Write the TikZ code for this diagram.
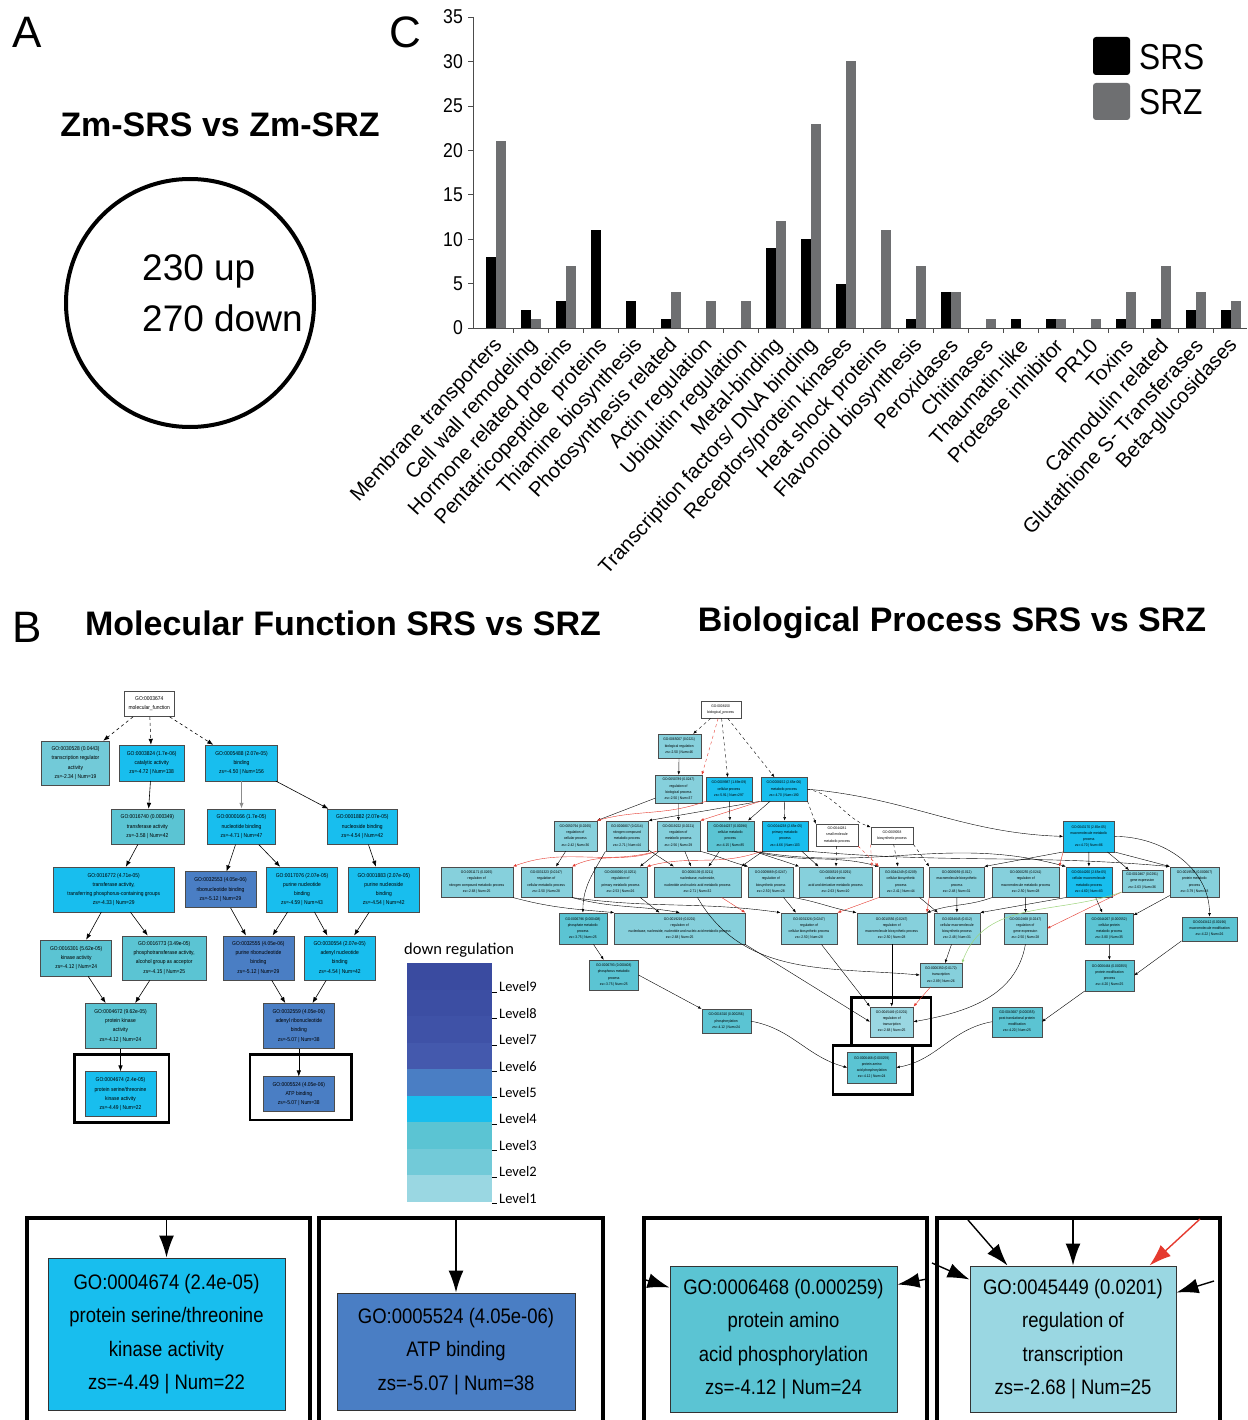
\documentclass[tikz,border=0pt]{standalone}
\usepackage{fontspec}
\setmainfont{Liberation Sans}
\newfontfamily\narrowfont[FakeStretch=0.88]{Liberation Sans}
\newfontfamily\carlfont{Carlito}
\usetikzlibrary{arrows.meta,calc}
\definecolor{lvnine}{HTML}{3A4BA0}
\definecolor{lveight}{HTML}{3C4EA3}
\definecolor{lvseven}{HTML}{3F52A7}
\definecolor{lvsix}{HTML}{4459AD}
\definecolor{lvfive}{HTML}{4A7EC4}
\definecolor{lvfour}{HTML}{18BEEE}
\definecolor{lvthree}{HTML}{5BC4D3}
\definecolor{lvtwo}{HTML}{72CAD8}
\definecolor{lvone}{HTML}{9AD7E2}
\definecolor{bptwo}{HTML}{86D0DC}
\definecolor{srzgray}{HTML}{6E6F71}
\definecolor{edred}{HTML}{E53A2F}
\definecolor{edgreen}{HTML}{9CD47A}
\tikzset{
 mfn/.style={draw=black!70, line width=0.5pt, align=center, inner sep=0pt, font=\narrowfont\fontsize{5.6}{9.2}\selectfont},
 bpn/.style={draw=black!70, line width=0.4pt, align=center, inner sep=0pt, font=\narrowfont\fontsize{3.7}{6.2}\selectfont},
 mfa/.style={-{Latex[length=6pt,width=4.5pt]}, line width=0.6pt},
 bpa/.style={-{Latex[length=3.5pt,width=2.8pt]}, line width=0.4pt},
 hl/.style={draw, line width=2.6pt},
 bigbox/.style={draw=black!80, line width=1pt, align=center, inner sep=0pt, font=\narrowfont\fontsize{21}{33.5}\selectfont},
 bigarr/.style={-{Latex[length=22pt,width=15pt]}, line width=1.4pt},
 framebox/.style={line width=4.5pt},
 catl/.style={rotate=47.5, anchor=east, font=\fontsize{20.5}{20.5}\selectfont, inner sep=0pt},
 ylab/.style={anchor=east, font=\narrowfont\fontsize{20}{20}\selectfont, inner sep=0pt},
 lvlab/.style={anchor=west, font=\carlfont\fontsize{14.5}{14.5}\selectfont, inner sep=0pt},
 paneltitle/.style={font=\bfseries\fontsize{34}{34}\selectfont},
 panellab/.style={font=\fontsize{44}{44}\selectfont, inner sep=0pt}
}
\newcommand\catlab[2]{\node[catl] (cat#1) at ({496+35*#1+3},342) {#2};}
\begin{document}
\begin{tikzpicture}[x=1pt,y=-1pt]
\useasboundingbox (0,0) rectangle (1247,1420);
\fill[white] (0,0) rectangle (1247,1420);

% ---------- Panel A ----------
\node[panellab] (lblA) at (27,32) {A};
\node[paneltitle] (titA) at (220,125) {Zm-SRS vs Zm-SRZ};
\node[draw, circle, line width=4pt, minimum size=248pt, inner sep=0pt] (circ) at (190,303) {};
\node[anchor=west, font=\fontsize{37}{37}\selectfont, inner sep=0pt] (upn) at (142,271) {230 up};
\node[anchor=west, font=\fontsize{37}{37}\selectfont, inner sep=0pt] (downn) at (142,318) {270 down};

% ---------- Panel C ----------
\node[panellab] (lblC) at (405,32) {C};
\draw[line width=0.6pt, black!70] (473,17) -- (473,328) -- (1247,328);
\foreach \v in {0,5,...,35} {
  \draw[line width=0.6pt, black!70] (468,{328-\v*8.886}) -- (473,{328-\v*8.886});
  \node[ylab] (yl\v) at (463,{328-\v*8.886}) {\v};
}
\foreach \k in {1,...,21} {\draw[line width=0.6pt, black!70] ({478.5+35*\k},328) -- ({478.5+35*\k},333);}
\foreach \i/\a/\b in {0/8/21,1/2/1,2/3/7,3/11/0,4/3/0,5/1/4,6/0/3,7/0/3,8/9/12,9/10/23,10/5/30,11/0/11,12/1/7,13/4/4,14/0/1,15/1/0,16/1/1,17/0/1,18/1/4,19/1/7,20/2/4,21/2/3} {
  \ifnum\a>0 \fill[black] ({496+35*\i-10},328) rectangle ({496+35*\i},{328-\a*8.886}); \fi
  \ifnum\b>0 \fill[srzgray] ({496+35*\i},328) rectangle ({496+35*\i+10},{328-\b*8.886}); \fi
}
\catlab{0}{Membrane transporters}
\catlab{1}{Cell wall remodeling}
\catlab{2}{Hormone related proteins}
\catlab{3}{Pentatricopeptide\ \ proteins}
\catlab{4}{Thiamine biosynthesis}
\catlab{5}{Photosynthesis related}
\catlab{6}{Actin regulation}
\catlab{7}{Ubiquitin regulation}
\catlab{8}{Metal-binding}
\catlab{9}{Transcription factors/ DNA binding}
\catlab{10}{Receptors/protein kinases}
\catlab{11}{Heat shock proteins}
\catlab{12}{Flavonoid biosynthesis}
\catlab{13}{Peroxidases}
\catlab{14}{Chitinases}
\catlab{15}{Thaumatin-like}
\catlab{16}{Protease inhibitor}
\catlab{17}{PR10}
\catlab{18}{Toxins}
\catlab{19}{Calmodulin related}
\catlab{20}{Glutathione S- Transferases}
\catlab{21}{Beta-glucosidases}
\fill[black, rounded corners=3pt] (1093,37) rectangle (1130,75);
\fill[srzgray, rounded corners=3pt] (1093,83) rectangle (1130,120);
\node[anchor=west, font=\narrowfont\fontsize{36}{36}\selectfont, inner sep=0pt] (legS) at (1139,57) {SRS};
\node[anchor=west, font=\narrowfont\fontsize{36}{36}\selectfont, inner sep=0pt] (legZ) at (1139,102) {SRZ};

% ---------- Panel B titles ----------
\node[panellab] (lblB) at (27,627) {B};
\node[paneltitle] (titMF) at (343,623) {Molecular Function SRS vs SRZ};
\node[paneltitle] (titBP) at (952,623) {Biological Process SRS vs SRZ};

% ---------- Molecular function graph ----------
\node[mfn, fill=white, minimum width=50, minimum height=25.7] (mroot) at (149.3,703.8) {GO:0003674\\molecular\_function};
\node[mfn, fill=lvtwo, minimum width=67.6, minimum height=44] (m1) at (75.5,763) {GO:0030528 (0.0443)\\transcription regulator\\activity\\zs=-2.34 | Num=19};
\node[mfn, fill=lvfour, minimum width=64.7, minimum height=35.7] (m2) at (151.7,762.9) {GO:0003824 (1.7e-06)\\catalytic activity\\zs=-4.72 | Num=138};
\node[mfn, fill=lvfour, minimum width=71.6, minimum height=35.7] (m3) at (241.5,762.9) {GO:0005488 (2.07e-05)\\binding\\zs=-4.50 | Num=156};
\node[mfn, fill=lvthree, minimum width=73.3, minimum height=35.3] (m4) at (147.4,826.7) {GO:0016740 (0.000349)\\transferase activity\\zs=-3.58 | Num=42};
\node[mfn, fill=lvfour, minimum width=68.4, minimum height=35.3] (m5) at (241.5,826.7) {GO:0000166 (1.7e-05)\\nucleotide binding\\zs=-4.71 | Num=47};
\node[mfn, fill=lvfour, minimum width=70, minimum height=35.3] (m6) at (362.3,826.7) {GO:0001882 (2.07e-05)\\nucleoside binding\\zs=-4.54 | Num=42};
\node[mfn, fill=lvfour, minimum width=120.7, minimum height=44.7] (m7) at (113.7,889.4) {GO:0016772 (4.71e-05)\\transferase activity,\\transferring phosphorus-containing groups\\zs=-4.33 | Num=29};
\node[mfn, fill=lvfive, minimum width=71, minimum height=36] (m8) at (220.5,889.7) {GO:0032553 (4.05e-06)\\ribonucleotide binding\\zs=-5.12 | Num=29};
\node[mfn, fill=lvfour, minimum width=70.6, minimum height=44.7] (m9) at (302,889.4) {GO:0017076 (2.07e-05)\\purine nucleotide\\binding\\zs=-4.59 | Num=43};
\node[mfn, fill=lvfour, minimum width=71, minimum height=44.7] (m10) at (383.8,889.4) {GO:0001883 (2.07e-05)\\purine nucleoside\\binding\\zs=-4.54 | Num=42};
\node[mfn, fill=lvthree, minimum width=71, minimum height=36] (m11) at (76.2,958) {GO:0016301 (5.62e-05)\\kinase activity\\zs=-4.12 | Num=24};
\node[mfn, fill=lvthree, minimum width=83.7, minimum height=44.3] (m12) at (164.2,957.9) {GO:0016773 (3.49e-05)\\phosphotransferase activity,\\alcohol group as acceptor\\zs=-4.15 | Num=25};
\node[mfn, fill=lvfive, minimum width=71.3, minimum height=44.3] (m13) at (258.4,957.9) {GO:0032555 (4.05e-06)\\purine ribonucleotide\\binding\\zs=-5.12 | Num=29};
\node[mfn, fill=lvfour, minimum width=70.7, minimum height=44.3] (m14) at (339.7,957.9) {GO:0030554 (2.07e-05)\\adenyl nucleotide\\binding\\zs=-4.54 | Num=42};
\node[mfn, fill=lvthree, minimum width=71, minimum height=45] (m15) at (120.5,1025.8) {GO:0004672 (9.62e-05)\\protein kinase\\activity\\zs=-4.12 | Num=24};
\node[mfn, fill=lvfive, minimum width=71, minimum height=45] (m16) at (298.8,1025.8) {GO:0032559 (4.05e-06)\\adenyl ribonucleotide\\binding\\zs=-5.07 | Num=38};
\node[mfn, fill=lvfour, minimum width=71, minimum height=45] (m17) at (120.5,1094.2) {GO:0004674 (2.4e-05)\\protein serine/threonine\\kinase activity\\zs=-4.49 | Num=22};
\node[mfn, fill=lvfive, minimum width=71, minimum height=35] (m18) at (298.8,1094.2) {GO:0005524 (4.05e-06)\\ATP binding\\zs=-5.07 | Num=38};
\draw[hl] (74.3,1054.3) rectangle (169,1122.7);
\draw[hl] (250,1054.3) rectangle (351.7,1120);
\draw[mfa, dashed] (mroot) -- (m1);
\draw[mfa, dashed] (mroot) -- (m2);
\draw[mfa, dashed] (mroot) -- (m3);
\draw[mfa] (m2) -- (m4);
\draw[mfa] (m4) -- (m7);
\draw[mfa, black!45, line width=1.3pt] (m3) -- (m5);
\draw[mfa] (m3) -- (m6);
\draw[mfa] (m5) -- (m8);
\draw[mfa] (m5) -- (m9);
\draw[mfa] (m6) -- (m10);
\draw[mfa] (m7) -- (m11);
\draw[mfa] (m7) -- (m12);
\draw[mfa] (m8) -- (m13);
\draw[mfa] (m9) -- (m13);
\draw[mfa] (m9) -- (m14);
\draw[mfa] (m10) -- (m14);
\draw[mfa] (m11) -- (m15);
\draw[mfa] (m12) -- (m15);
\draw[mfa] (m13) -- (m16);
\draw[mfa] (m14) -- (m16);
\draw[mfa] (m15) -- (m17);
\draw[mfa] (m16) -- (m18);

% ---------- Legend ----------
\node[anchor=west, font=\carlfont\fontsize{16.5}{16.5}\selectfont, inner sep=0pt] (downreg) at (404,950) {down regulation};
\foreach \c [count=\k from 0] in {lvnine,lveight,lvseven,lvsix,lvfive,lvfour,lvthree,lvtwo,lvone} {
  \fill[\c] (406.5,{963+26.5*\k}) rectangle (491.5,{963+26.5*(\k+1)});
}
\foreach \n [count=\k from 0] in {9,8,7,6,5,4,3,2,1} {
  \draw[line width=0.6pt] (492,{992+26.4*\k}) -- (497,{992+26.4*\k});
  \node[lvlab] (lv\n) at (499,{987+26.4*\k}) {Level\n};
}

% ---------- Biological process graph ----------
\node[bpn, fill=white, minimum width=40, minimum height=17.6] (broot) at (720.7,709.5) {GO:0008150\\biological\_process};
\node[bpn, fill=bptwo, minimum width=43, minimum height=24.3] (b1) at (679.2,746.2) {GO:0065007 (0.0221)\\biological regulation\\zs=-2.50 | Num=46};
\node[bpn, fill=bptwo, minimum width=46.4, minimum height=28.3] (b2) at (678.5,789.2) {GO:0050789 (0.0247)\\regulation of\\biological process\\zs=-2.50 | Num=37};
\node[bpn, fill=lvfour, minimum width=45.7, minimum height=23.7] (b3) at (728.9,789.2) {GO:0009987 (1.89e-09)\\cellular process\\zs=-5.91 | Num=297};
\node[bpn, fill=lvfour, minimum width=46.6, minimum height=23.7] (b4) at (784,789.2) {GO:0008152 (2.65e-06)\\metabolic process\\zs=-4.70 | Num=190};
\node[bpn, fill=bptwo, minimum width=42.7, minimum height=30.3] (b5) at (575.4,835.9) {GO:0050794 (0.0265)\\regulation of\\cellular process\\zs=-2.42 | Num=36};
\node[bpn, fill=bptwo, minimum width=42.6, minimum height=30.3] (b6) at (627,835.9) {GO:0006807 (0.0214)\\nitrogen compound\\metabolic process\\zs=-2.71 | Num=44};
\node[bpn, fill=bptwo, minimum width=43.3, minimum height=30.3] (b7) at (678.4,835.9) {GO:0019222 (0.0221)\\regulation of\\metabolic process\\zs=-2.56 | Num=29};
\node[bpn, fill=lvthree, minimum width=47.3, minimum height=30.3] (b8) at (730.4,835.9) {GO:0044237 (0.00296)\\cellular metabolic\\process\\zs=-4.15 | Num=85};
\node[bpn, fill=lvfour, minimum width=46.6, minimum height=30.3] (b9) at (785,835.9) {GO:0044238 (2.65e-05)\\primary metabolic\\process\\zs=-4.66 | Num=103};
\node[bpn, fill=white, minimum width=42, minimum height=22] (bsm) at (837,835) {GO:0044281\\small molecule\\metabolic process};
\node[bpn, fill=white, minimum width=42.6, minimum height=17] (bbio) at (892,835.8) {GO:0009058\\biosynthetic process};
\node[bpn, fill=lvfour, minimum width=51, minimum height=30.7] (bmac) at (1088.8,836.4) {GO:0043170 (2.65e-05)\\macromolecule metabolic\\process\\zs=-4.70 | Num=86};
\node[bpn, fill=bptwo, minimum width=72, minimum height=30.6] (c1) at (476.7,882) {GO:0051171 (0.0265)\\regulation of\\nitrogen compound metabolic process\\zs=-2.68 | Num=25};
\node[bpn, fill=bptwo, minimum width=51, minimum height=30.6] (c2) at (546.2,882) {GO:0031323 (0.0247)\\regulation of\\cellular metabolic process\\zs=-2.50 | Num=28};
\node[bpn, fill=bptwo, minimum width=52.4, minimum height=30.6] (c3) at (620.5,882) {GO:0080090 (0.0251)\\regulation of\\primary metabolic process\\zs=-2.53 | Num=26};
\node[bpn, fill=bptwo, minimum width=87, minimum height=30.6] (c4) at (697.5,882) {GO:0006139 (0.0211)\\nucleobase, nucleoside,\\nucleotide and nucleic acid metabolic process\\zs=-2.71 | Num=32};
\node[bpn, fill=bptwo, minimum width=45, minimum height=30.6] (c5) at (770.8,882) {GO:0009889 (0.0247)\\regulation of\\biosynthetic process\\zs=-2.50 | Num=28};
\node[bpn, fill=bptwo, minimum width=72.4, minimum height=30.6] (c6) at (835.5,882) {GO:0006519 (0.0291)\\cellular amino\\acid and derivative metabolic process\\zs=-2.63 | Num=10};
\node[bpn, fill=bptwo, minimum width=43.7, minimum height=30.6] (c7) at (900.9,882) {GO:0044249 (0.0209)\\cellular biosynthetic\\process\\zs=-2.41 | Num=44};
\node[bpn, fill=bptwo, minimum width=54.7, minimum height=30.6] (c8) at (956.7,882) {GO:0009059 (0.012)\\macromolecule biosynthetic\\process\\zs=-2.48 | Num=31};
\node[bpn, fill=bptwo, minimum width=66.7, minimum height=30.6] (c9) at (1025.7,882) {GO:0060255 (0.0241)\\regulation of\\macromolecule metabolic process\\zs=-2.50 | Num=28};
\node[bpn, fill=lvfour, minimum width=45.7, minimum height=30.6] (c10) at (1088.9,882) {GO:0044260 (2.65e-05)\\cellular macromolecule\\metabolic process\\zs=-4.60 | Num=83};
\node[bpn, fill=bptwo, minimum width=41, minimum height=21.7] (c11) at (1142.2,881) {GO:0010467 (0.0291)\\gene expression\\zs=-2.63 | Num=36};
\node[bpn, fill=bptwo, minimum width=49, minimum height=30.6] (c12) at (1194.5,882) {GO:0019538 (0.000667)\\protein metabolic\\process\\zs=-3.79 | Num=38};
\node[bpn, fill=lvthree, minimum width=47.7, minimum height=31.4] (df) at (582.9,928.5) {GO:0006796 (0.000408)\\phosphate metabolic\\process\\zs=-3.75 | Num=25};
\node[bpn, fill=bptwo, minimum width=130.7, minimum height=31.4] (dg) at (679.7,928.5) {GO:0019219 (0.0201)\\regulation of\\nucleobase, nucleoside, nucleotide and nucleic acid metabolic process\\zs=-2.68 | Num=25};
\node[bpn, fill=bptwo, minimum width=56.6, minimum height=31.4] (dh) at (809,928.5) {GO:0031326 (0.0247)\\regulation of\\cellular biosynthetic process\\zs=-2.50 | Num=28};
\node[bpn, fill=bptwo, minimum width=70, minimum height=31.4] (da) at (891.7,928.5) {GO:0010556 (0.0247)\\regulation of\\macromolecule biosynthetic process\\zs=-2.50 | Num=28};
\node[bpn, fill=bptwo, minimum width=46, minimum height=31.4] (db) at (957,928.5) {GO:0034645 (0.012)\\cellular macromolecule\\biosynthetic process\\zs=-2.48 | Num=31};
\node[bpn, fill=bptwo, minimum width=42.7, minimum height=31.4] (dc) at (1025.4,928.5) {GO:0010468 (0.0247)\\regulation of\\gene expression\\zs=-2.50 | Num=28};
\node[bpn, fill=lvthree, minimum width=48.3, minimum height=31.4] (dd) at (1109.2,928.5) {GO:0044267 (0.000552)\\cellular protein\\metabolic process\\zs=-3.80 | Num=35};
\node[bpn, fill=lvthree, minimum width=55.6, minimum height=24] (de) at (1209.5,928.7) {GO:0043412 (0.00196)\\macromolecule modification\\zs=-4.22 | Num=26};
\node[bpn, fill=lvthree, minimum width=49, minimum height=30] (ea) at (613.8,975) {GO:0006793 (0.000408)\\phosphorus metabolic\\process\\zs=-3.75 | Num=25};
\node[bpn, fill=bptwo, minimum width=41.7, minimum height=23.4] (fa) at (940.9,975) {GO:0006350 (0.0172)\\transcription\\zs=-2.89 | Num=26};
\node[bpn, fill=lvthree, minimum width=49, minimum height=30.7] (fb) at (1109.5,975.4) {GO:0006464 (0.000355)\\protein modification\\process\\zs=-4.20 | Num=25};
\node[bpn, fill=lvthree, minimum width=49, minimum height=24.3] (eb) at (726.2,1021.2) {GO:0016310 (0.000256)\\phosphorylation\\zs=-4.12 | Num=24};
\node[bpn, fill=lvone, minimum width=43.3, minimum height=30] (fc) at (891.7,1021.7) {GO:0045449 (0.0201)\\regulation of\\transcription\\zs=-2.68 | Num=25};
\node[bpn, fill=lvthree, minimum width=49.4, minimum height=30] (fd) at (1017,1021.7) {GO:0043687 (0.000355)\\post-translational protein\\modification\\zs=-4.20 | Num=25};
\node[bpn, fill=lvthree, minimum width=48.7, minimum height=30.4] (fe) at (871.7,1067.5) {GO:0006468 (0.000259)\\protein amino\\acid phosphorylation\\zs=-4.12 | Num=24};
\draw[hl] (851.7,997.3) rectangle (931,1045.5);
\draw[hl] (833,1045.5) rectangle (912.7,1094.3);

\draw[bpa, dashed] (broot) -- (b1);
\draw[bpa, dashed, edred] (broot) -- (b2.north east);
\draw[bpa, dashed] (broot) -- (b3);
\draw[bpa, dashed] (broot) -- (b4);
\draw[bpa] (b1) -- (b2);
\draw[bpa] (b2) -- (b5.north east);
\draw[bpa] (b2) -- (b7);
\draw[bpa, edred] (b3.south west) to[out=200, in=15] (b5.north east);
\draw[bpa] (b3) -- (b8);
\draw[bpa] (b4.south west) -- (b6.north east);
\draw[bpa, edred] (b4.south west) -- (b7.north east);
\draw[bpa] (b4) -- (b8);
\draw[bpa] (b4) -- (b9);
\draw[bpa, dashed] (b4.south east) -- (bsm.north west);
\draw[bpa, dashed] (b4.east) to[out=-10, in=160] (bbio.north west);
\draw[bpa] (b4.east) to[out=-5, in=178] (bmac.west);
\draw[bpa] (b5) -- (c2);
\draw[bpa, edred] (b7.south west) to[out=195, in=20] (c1.north east);
\draw[bpa, edred] (b7.south west) to[out=200, in=25] (c2.north east);
\draw[bpa] (b7) -- (c3);
\draw[bpa] (b7) -- (c4);
\draw[bpa] (b7.south east) to[out=-15, in=165] (c5.north west);
\draw[bpa] (b6) -- (c4);
\draw[bpa] (b6.south west) to[out=240, in=90] (df.north);
\draw[bpa] (b8) -- (c4);
\draw[bpa] (b8.south east) to[out=-20, in=160] (c6.north west);
\draw[bpa] (b8.south east) to[out=-15, in=165] (c7.north west);
\draw[bpa] (b8.south east) to[out=-10, in=165] (c10.north west);
\draw[bpa, edred] (b9.south west) to[out=200, in=15] (c3.north east);
\draw[bpa] (b9) -- (c4.north east);
\draw[bpa] (b9) -- (c6);
\draw[bpa] (b9.south east) to[out=-5, in=175] (c12.north west);
\draw[bpa, dashed] (bsm) -- (c6);
\draw[bpa, dashed, edred] (bsm.south east) -- (c7.north west);
\draw[bpa, dashed] (bbio) -- (c7);
\draw[bpa, dashed] (bbio.south east) -- (c8.north west);
\draw[bpa] (bmac.south west) -- (c8.north east);
\draw[bpa, edred] (bmac.south west) -- (c9.north east);
\draw[bpa] (bmac) -- (c10);
\draw[bpa] (bmac) -- (c11);
\draw[bpa] (bmac.south east) -- (c12.north west);
\draw[bpa] (bmac.east) to[out=0, in=90] (de.north);
\draw[bpa] (c1.south east) to[out=-15, in=175] (dg.north west);
\draw[bpa] (c2.south east) to[out=-15, in=170] (dg.north);
\draw[bpa] (c3) -- (dg);
\draw[bpa, edred] (c4) -- (dg.north east);
\draw[bpa] (c2.south east) to[out=-8, in=172] (dh.north west);
\draw[bpa] (c5) -- (dh);
\draw[bpa, edred] (c7.south west) -- (dh.north east);
\draw[bpa] (c5.south east) to[out=-10, in=170] (da.north west);
\draw[bpa, edred] (c8.south west) -- (da.north east);
\draw[bpa] (c9.south west) to[out=200, in=20] (da.north east);
\draw[bpa] (c7) -- (db);
\draw[bpa] (c8) -- (db);
\draw[bpa] (c10.south west) -- (db.north east);
\draw[bpa] (c9) -- (dc);
\draw[bpa, edred] (c11.south west) -- (dc.east);
\draw[bpa] (c10) -- (dd);
\draw[bpa] (c12) -- (dd);
\draw[bpa, edred!80, dashed] (bbio.south west) -- (c6.north east);
\draw[bpa, edgreen, line width=0.5pt] (c11.south west) to[out=200, in=70] (fa.north east);
\draw[bpa] (df) -- (ea);
\draw[bpa] (ea.east) -- (eb.north west);
\draw[bpa] (eb.east) to[out=-10, in=165] (fe.west);
\draw[bpa] (db) -- (fa);
\draw[bpa] (c4.south) to[out=-60, in=175] (fa.west);
\draw[bpa] (dg.south east) -- (fc.west);
\draw[bpa] (dh) -- (fc.north west);
\draw[bpa] (da) -- (fc);
\draw[bpa, edred] (fa) -- (fc.north east);
\draw[bpa] (dc.south) to[out=-100, in=10] (fc.east);
\draw[bpa] (dd) -- (fb);
\draw[bpa] (de.south west) -- (fb.east);
\draw[bpa] (fb.south west) -- (fd.east);
\draw[bpa] (fd.west) to[out=190, in=10] (fe.east);

% ---------- Bottom enlarged boxes ----------
\draw[framebox] (27,1422) -- (27,1218) -- (310,1218) -- (310,1422);
\draw[framebox] (319,1422) -- (319,1218) -- (603,1218) -- (603,1422);
\draw[framebox] (644,1422) -- (644,1218) -- (927,1218) -- (927,1422);
\draw[framebox] (937,1422) -- (937,1218) -- (1220,1218) -- (1220,1422);
\node[bigbox, fill=lvfour, minimum width=237, minimum height=152] (bx1) at (166.5,1334) {GO:0004674 (2.4e-05)\\protein serine/threonine\\kinase activity\\zs=-4.49 | Num=22};
\node[bigbox, fill=lvfive, minimum width=238, minimum height=117] (bx2) at (456,1351.5) {GO:0005524 (4.05e-06)\\ATP binding\\zs=-5.07 | Num=38};
\node[bigbox, fill=lvthree, minimum width=227, minimum height=146] (bx3) at (783.5,1339) {GO:0006468 (0.000259)\\protein amino\\acid phosphorylation\\zs=-4.12 | Num=24};
\node[bigbox, fill=lvone, minimum width=206, minimum height=146] (bx4) at (1073,1339) {GO:0045449 (0.0201)\\regulation of\\transcription\\zs=-2.68 | Num=25};
\coordinate (s1) at (166.5,1219);
\coordinate (s2) at (456,1219);
\coordinate (s3l) at (646,1280);
\coordinate (s3r) at (927,1279);
\coordinate (s4d) at (968,1220);
\coordinate (s4v) at (1073,1219);
\coordinate (s4r) at (1200,1219);
\coordinate (s4l) at (932,1263);
\coordinate (s4e) at (1214,1281);
\draw[bigarr] (s1) -- (bx1.north);
\draw[bigarr] (s2) -- (bx2.north);
\draw[bigarr] (s3l) -- ($(bx3.north west)+(0,22)$);
\draw[bigarr] (s3r) -- ($(bx3.north east)+(0,19)$);
\draw[bigarr] (s4d) -- ($(bx4.north west)+(38,0)$);
\draw[bigarr] (s4v) -- (bx4.north);
\draw[bigarr, edred] (s4r) -- ($(bx4.north east)+(-27,0)$);
\draw[bigarr] (s4l) -- ($(bx4.north west)+(0,14)$);
\draw[bigarr] (s4e) -- ($(bx4.north east)+(0,27)$);
\end{tikzpicture}
\end{document}
